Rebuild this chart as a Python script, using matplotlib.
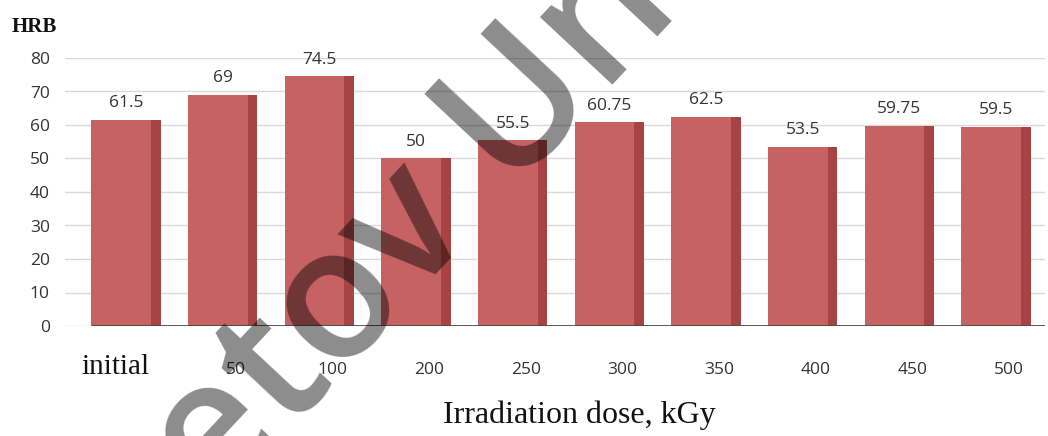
import matplotlib
matplotlib.use('Agg')
import matplotlib.pyplot as plt
import matplotlib.transforms as mtransforms
import numpy as np

# Data
doses = ["initial", "50", "100", "200", "250", "300", "350", "400", "450", "500"]
hrb = [61.5, 69, 74.5, 50, 55.5, 60.75, 62.5, 53.5, 59.75, 59.5]
value_labels = ["61.5", "69", "74.5", "50", "55.5", "60.75", "62.5", "53.5", "59.75", "59.5"]
y_ticks = [0, 10, 20, 30, 40, 50, 60, 70, 80]

FRONT = "#c76262"
SIDE = "#a64444"
TEXT = "#333333"
SANS = "Open Sans"
SERIF = "Liberation Serif"

fig = plt.figure(figsize=(10.48, 4.36), dpi=100)
# axes: left 65px, right 1045px, bottom (y=0) 326px, top (y=80) 58px
ax = fig.add_axes([65 / 1048, (436 - 326) / 436, 980 / 1048, 268 / 436])

x = np.arange(len(doses))
width = 0.72
side_w = 0.10

ax.bar(x, hrb, width=width, color=FRONT, zorder=2)
ax.bar(x + width / 2 - side_w / 2, hrb, width=side_w, color=SIDE, zorder=2)

for xi, v, lab in zip(x, hrb, value_labels):
    ax.annotate(lab, (xi, v), textcoords="offset points", xytext=(0, 9),
                ha="center", va="baseline", fontsize=12.5, family=SANS,
                color=TEXT, annotation_clip=False)

ax.set_xlim(-0.631, 9.507)
ax.set_ylim(0, 80)
ax.set_yticks(y_ticks)
ax.yaxis.grid(True, color="#d9d9d9", linewidth=1)
ax.set_axisbelow(True)
for s in ax.spines.values():
    s.set_visible(False)

# dark base line starting at the first bar
ax.hlines(0, x[0] - width / 2, ax.get_xlim()[1], color="#4a4a4a", linewidth=2, zorder=3)

ax.tick_params(axis="both", length=0)
ax.tick_params(axis="y", pad=11)
for lab in ax.get_yticklabels():
    lab.set_fontfamily(SANS)
    lab.set_fontsize(12.5)
    lab.set_color(TEXT)

ax.set_xticks(x)
ax.set_xticklabels(doses)
ax.tick_params(axis="x", pad=34.5)
for i, lab in enumerate(ax.get_xticklabels()):
    lab.set_va("baseline")
    if i == 0:
        lab.set_fontfamily(SERIF)
        lab.set_fontsize(21)
        lab.set_color("#111111")
        dx = -10
    else:
        lab.set_fontfamily(SANS)
        lab.set_fontsize(12.5)
        lab.set_color(TEXT)
        dx = 13
    lab.set_transform(lab.get_transform() +
                      mtransforms.ScaledTranslation(dx / 100, 0, fig.dpi_scale_trans))

ax.set_xlabel("Irradiation dose, kGy", fontsize=23, family=SERIF, color="#111111",
              va="baseline")
ax.xaxis.set_label_coords(0.525, -0.362)

fig.text(12 / 1048, 1 - 32 / 436, "HRB", fontsize=15, family=SERIF,
         fontweight="bold", color="#111111", va="baseline", ha="left")

# watermark
fig.text(431 / 1048, 1 - 209 / 436, "etov Uni", fontsize=132, family="Open Sans",
         fontweight="semibold", color="black", alpha=0.45, rotation=47,
         ha="center", va="center", rotation_mode="anchor", zorder=10)

fig.savefig("out.png", dpi=100)
